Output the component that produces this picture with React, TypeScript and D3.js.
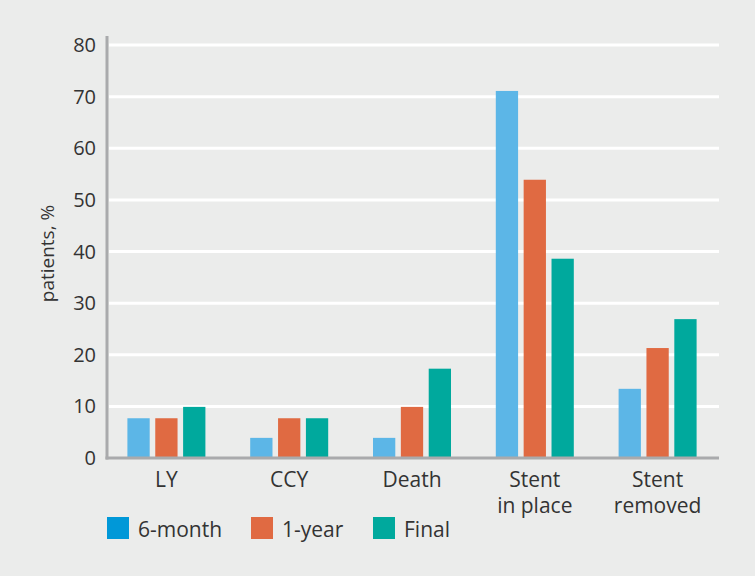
import React, { useEffect, useRef } from 'react';
import * as d3 from 'd3';

const categories = [['LY'], ['CCY'], ['Death'], ['Stent', 'in place'], ['Stent', 'removed']];
const seriesNames = ['6-month', '1-year', 'Final'];
const sixMonth = [7.7, 3.9, 3.9, 71.1, 13.4];
const oneYear = [7.7, 7.7, 9.9, 53.9, 21.3];
const finalVals = [9.9, 7.7, 17.3, 38.6, 26.9];
const yTicks = [0, 10, 20, 30, 40, 50, 60, 70, 80];

const barColors = ['#5cb6e7', '#e06a42', '#00a99d'];
const legendColors = ['#0098d8', '#e06a42', '#00a99d'];

const W = 755;
const H = 576;

const App: React.FC = () => {
  const svgRef = useRef<SVGSVGElement>(null);

  useEffect(() => {
    if (!svgRef.current) return;
    const svg = d3.select(svgRef.current);
    svg.selectAll('*').remove();

    const font = "'Open Sans', 'Noto Sans', sans-serif";
    const left = 107, right = 719, top = 45, bottom = 458;

    svg.append('rect').attr('width', W).attr('height', H).attr('fill', '#ebeceb');

    const y = d3.scaleLinear().domain([0, 80]).range([bottom, top]);
    const x0 = d3.scaleBand<number>().domain(d3.range(categories.length)).range([left - 2, right]).padding(0);
    const x1 = d3.scaleBand<number>().domain([0, 1, 2]).range([-39, 39]).paddingInner(0.2);

    // grid
    svg.append('g')
      .selectAll('line')
      .data(yTicks.filter(t => t > 0))
      .join('line')
      .attr('x1', left + 2).attr('x2', right)
      .attr('y1', d => y(d)).attr('y2', d => y(d))
      .attr('stroke', '#ffffff').attr('stroke-width', 3);

    // bars
    const series = [sixMonth, oneYear, finalVals];
    series.forEach((vals, si) => {
      svg.append('g')
        .selectAll('rect')
        .data(vals)
        .join('rect')
        .attr('x', (_, i) => x0(i)! + x0.bandwidth() / 2 + x1(si)!)
        .attr('width', x1.bandwidth())
        .attr('y', d => y(d))
        .attr('height', d => bottom - y(d))
        .attr('fill', barColors[si]);
    });

    // axes
    svg.append('line').attr('x1', left).attr('x2', left).attr('y1', 36).attr('y2', bottom + 1.5)
      .attr('stroke', '#a9aaac').attr('stroke-width', 3);
    svg.append('line').attr('x1', left - 1.5).attr('x2', right).attr('y1', bottom).attr('y2', bottom)
      .attr('stroke', '#a9aaac').attr('stroke-width', 3);

    // y tick labels
    svg.append('g')
      .selectAll('text')
      .data(yTicks)
      .join('text')
      .attr('x', 96).attr('y', d => y(d) + 7)
      .attr('text-anchor', 'end')
      .attr('font-family', font).attr('font-size', 20).attr('fill', '#333')
      .text(d => d);

    svg.append('text')
      .attr('transform', `translate(54,${(top + bottom) / 2 + 2}) rotate(-90)`)
      .attr('text-anchor', 'middle')
      .attr('font-family', font).attr('font-size', 19).attr('fill', '#333')
      .text('patients, %');

    // category labels
    categories.forEach((lines, i) => {
      const cx = x0(i)! + x0.bandwidth() / 2;
      const t = svg.append('text')
        .attr('x', cx)
        .attr('y', 487)
        .attr('text-anchor', 'middle')
        .attr('font-family', font).attr('font-size', 21).attr('fill', '#333');
      lines.forEach((l, li) => {
        t.append('tspan').attr('x', cx).attr('dy', li === 0 ? 0 : 26).text(l);
      });
    });

    // legend
    const legX = [107, 251, 373];
    seriesNames.forEach((name, i) => {
      svg.append('rect').attr('x', legX[i]).attr('y', 517).attr('width', 22).attr('height', 22)
        .attr('fill', legendColors[i]);
      svg.append('text').attr('x', legX[i] + 31).attr('y', 537)
        .attr('font-family', font).attr('font-size', 21).attr('fill', '#333')
        .text(name);
    });
  }, []);

  return (
    <svg
      ref={svgRef}
      width={W}
      height={H}
      style={{ display: 'block', position: 'absolute', left: 0, top: 0 }}
    />
  );
};

export default App;
